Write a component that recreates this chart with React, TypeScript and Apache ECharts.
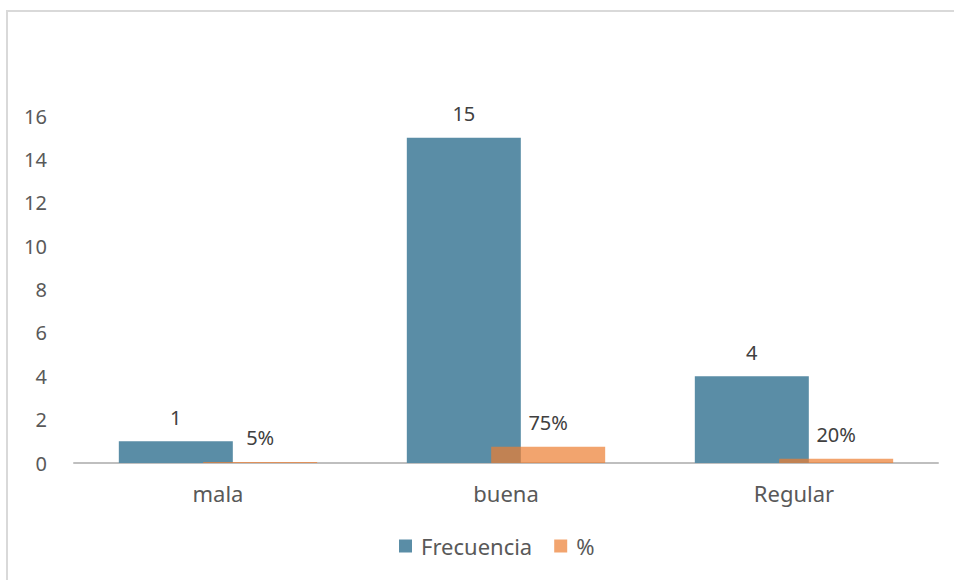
import React, { useEffect, useRef } from "react";
import * as echarts from "echarts";

const categories = ["mala", "buena", "Regular"];
const frecuencia = [1, 15, 4];
const porcentaje = [0.05, 0.75, 0.2];
const yTicks = { min: 0, max: 16, interval: 2 };

const FONT = "'Noto Sans', 'Open Sans', sans-serif";
const NUM_SIZE = 20;
const WORD_SIZE = 22;

export default function App() {
  const ref = useRef<HTMLDivElement>(null);

  useEffect(() => {
    if (!ref.current) return;
    const chart = echarts.init(ref.current, undefined, { renderer: "svg" });
    chart.setOption({
      animation: false,
      backgroundColor: "#ffffff",
      textStyle: { fontFamily: FONT },
      graphic: [
        {
          type: "polyline",
          shape: { points: [[7, 600], [7, 11], [980, 11]] },
          style: { fill: "none", stroke: "#d9d9d9", lineWidth: 2 },
          silent: true,
        },
      ],
      grid: { left: 74, right: 16, top: 116, bottom: 117 },
      legend: {
        bottom: 18,
        left: 394,
        itemWidth: 13,
        itemHeight: 13,
        itemGap: 22,
        icon: "rect",
        textStyle: { fontFamily: FONT, fontSize: WORD_SIZE, color: "#595959", padding: [0, 0, 0, 4] },
        data: ["Frecuencia", "%"],
      },
      xAxis: {
        type: "category",
        data: categories,
        axisLine: { lineStyle: { color: "#bfbfbf", width: 2 } },
        axisTick: { show: false },
        axisLabel: { fontFamily: FONT, fontSize: WORD_SIZE, color: "#595959", margin: 19 },
      },
      yAxis: {
        type: "value",
        min: yTicks.min,
        max: yTicks.max,
        interval: yTicks.interval,
        splitLine: { show: false },
        axisLine: { show: false },
        axisTick: { show: false },
        axisLabel: { fontFamily: FONT, fontSize: NUM_SIZE, color: "#595959", margin: 27 },
      },
      series: [
        {
          name: "Frecuencia",
          type: "bar",
          data: frecuencia,
          barWidth: 114,
          barGap: "-26%",
          itemStyle: { color: "#5a8da6" },
          label: {
            show: true,
            position: "top",
            distance: 14,
            fontFamily: FONT,
            fontSize: NUM_SIZE,
            color: "#404040",
          },
        },
        {
          name: "%",
          type: "bar",
          data: porcentaje,
          barWidth: 114,
          itemStyle: { color: "rgba(237,125,49,0.7)" },
          label: {
            show: true,
            position: "top",
            distance: 14,
            fontFamily: FONT,
            fontSize: NUM_SIZE,
            color: "#404040",
            formatter: (p: any) => `${Math.round(p.value * 100)}%`,
          },
        },
      ],
    });
    return () => chart.dispose();
  }, []);

  return (
    <div
      ref={ref}
      style={{ position: "absolute", left: 0, top: 0, width: 954, height: 580 }}
    />
  );
}
